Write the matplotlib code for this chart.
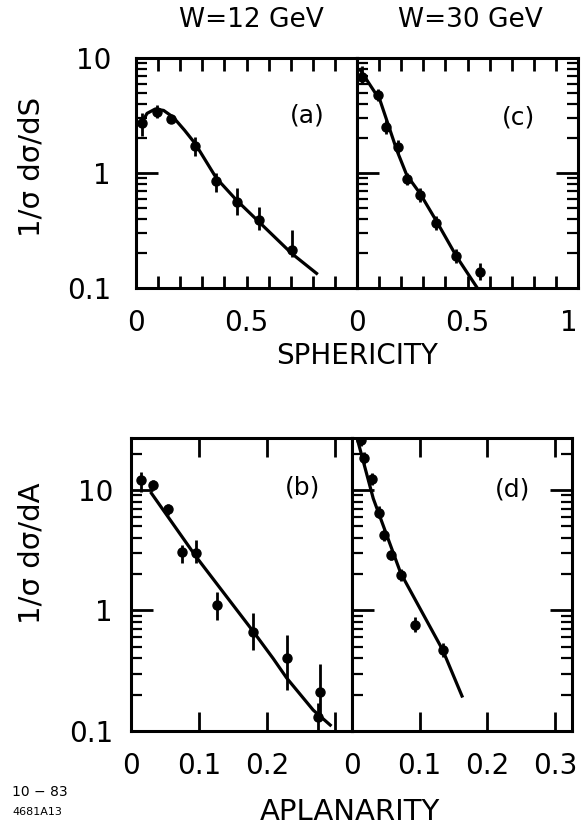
import numpy as np
import matplotlib
matplotlib.use('Agg')
import matplotlib.pyplot as plt
from matplotlib.ticker import LogLocator, MultipleLocator, NullFormatter, FixedLocator, FixedFormatter

# sphericity, W=12 GeV (a)
s12_x = [0.026, 0.094, 0.160, 0.267, 0.362, 0.458, 0.558, 0.704]
s12_y = [2.70, 3.40, 2.95, 1.72, 0.85, 0.56, 0.39, 0.214]
s12_lo = [2.10, 3.00, 2.70, 1.40, 0.68, 0.43, 0.32, 0.186]
s12_hi = [3.30, 3.90, 3.20, 2.05, 1.00, 0.74, 0.51, 0.32]
s12_fit_x = [0.020, 0.050, 0.087, 0.125, 0.169, 0.220, 0.267, 0.364, 0.455, 0.560, 0.704, 0.817]
s12_fit_y = [2.60, 3.30, 3.60, 3.50, 3.05, 2.35, 1.81, 0.90, 0.58, 0.37, 0.200, 0.134]

# sphericity, W=30 GeV (c)
s30_x = [0.021, 0.097, 0.131, 0.187, 0.225, 0.285, 0.357, 0.448, 0.557]
s30_y = [6.9, 4.76, 2.5, 1.67, 0.88, 0.64, 0.365, 0.19, 0.139]
s30_lo = [5.9, 4.2, 2.2, 1.45, 0.78, 0.56, 0.32, 0.165, 0.117]
s30_hi = [8.5, 5.4, 2.9, 1.95, 1.0, 0.74, 0.42, 0.22, 0.166]
s30_fit_x = [0.014, 0.104, 0.180, 0.225, 0.285, 0.360, 0.451, 0.540]
s30_fit_y = [7.9, 4.3, 1.58, 0.96, 0.665, 0.38, 0.187, 0.103]

# aplanarity, W=12 GeV (b)
a12_x = [0.014, 0.033, 0.055, 0.0745, 0.0956, 0.127, 0.180, 0.229, 0.278, 0.275]
a12_y = [12.1, 11.0, 6.9, 3.08, 2.98, 1.11, 0.667, 0.40, 0.21, 0.13]
a12_lo = [9.7, 10.0, 6.2, 2.48, 2.48, 0.83, 0.47, 0.22, 0.13, 0.10]
a12_hi = [14.2, 12.2, 7.7, 3.5, 3.85, 1.43, 0.95, 0.63, 0.36, 0.17]
a12_fit_x = [0.030, 0.0956, 0.180, 0.209, 0.229, 0.268, 0.293]
a12_fit_y = [9.4, 2.8, 0.667, 0.40, 0.275, 0.149, 0.112]

# aplanarity, W=30 GeV (d)
a30_x = [0.0128, 0.0176, 0.029, 0.040, 0.0475, 0.058, 0.072, 0.0926, 0.134]
a30_y = [26.0, 18.3, 12.3, 6.5, 4.24, 2.89, 1.97, 0.76, 0.47]
a30_lo = [23.0, 16.3, 11.0, 5.8, 3.8, 2.6, 1.75, 0.66, 0.41]
a30_hi = [29.0, 20.5, 13.8, 7.3, 4.7, 3.2, 2.2, 0.88, 0.54]
a30_fit_x = [0.0069, 0.0314, 0.072, 0.134, 0.1625]
a30_fit_y = [27.7, 8.5, 2.04, 0.47, 0.195]

plt.rcParams['font.family'] = 'DejaVu Sans'
W, H = 585, 835
fig = plt.figure(figsize=(W / 100, H / 100), dpi=100)


def box(x0, y0, x1, y1):
    return [x0 / W, 1 - y1 / H, (x1 - x0) / W, (y1 - y0) / H]


def panel(rect, xs, ys, lo, hi, fx, fy, xlim, ylim, label, lab_xy):
    ax = fig.add_axes(rect)
    ax.set_yscale('log')
    ys = np.array(ys)
    err = [ys - np.array(lo), np.array(hi) - ys]
    ax.errorbar(xs, ys, yerr=err, fmt='o', color='black', ms=6.5,
                elinewidth=2, capsize=0, zorder=3)
    ax.plot(fx, fy, color='black', lw=2.3, zorder=2)
    ax.set_xlim(*xlim)
    ax.set_ylim(*ylim)
    for sp in ax.spines.values():
        sp.set_linewidth(2.2)
    ax.yaxis.set_major_locator(LogLocator(base=10, numticks=5))
    ax.yaxis.set_minor_locator(LogLocator(base=10, subs=np.arange(2, 10), numticks=20))
    ax.yaxis.set_minor_formatter(NullFormatter())
    ax.tick_params(axis='y', which='major', direction='in', length=16, width=2,
                   left=True, right=True)
    ax.tick_params(axis='y', which='minor', direction='in', length=8, width=1.6,
                   left=True, right=True)
    ax.tick_params(axis='x', which='both', direction='in', width=2,
                   top=True, bottom=True, labelsize=20, pad=15)
    ax.text(lab_xy[0], lab_xy[1], label, transform=fig.transFigure,
            fontsize=18, ha='center', va='center')
    return ax


ax_a = panel(box(136, 58, 357, 288), s12_x, s12_y, s12_lo, s12_hi,
             s12_fit_x, s12_fit_y, (0, 1), (0.1, 10), '(a)', (307 / W, 1 - 115 / H))
ax_c = panel(box(357, 58, 578, 288), s30_x, s30_y, s30_lo, s30_hi,
             s30_fit_x, s30_fit_y, (0, 1), (0.1, 10), '(c)', (518 / W, 1 - 118 / H))
ax_b = panel(box(131, 438, 352, 731), a12_x, a12_y, a12_lo, a12_hi,
             a12_fit_x, a12_fit_y, (0, 0.325), (0.1, 27), '(b)', (303 / W, 1 - 487 / H))
ax_d = panel(box(352, 438, 572, 731), a30_x, a30_y, a30_lo, a30_hi,
             a30_fit_x, a30_fit_y, (0, 0.325), (0.1, 27), '(d)', (513 / W, 1 - 490 / H))

# x ticks
for ax, labs in [(ax_a, ['0', '0.5', '']), (ax_c, ['0', '0.5', '1'])]:
    ax.xaxis.set_major_locator(FixedLocator([0, 0.5, 1.0]))
    ax.xaxis.set_major_formatter(FixedFormatter(labs))
    ax.xaxis.set_minor_locator(MultipleLocator(0.1))
    ax.tick_params(axis='x', which='both', length=9)
for ax, labs in [(ax_b, ['0', '0.1', '0.2', '']), (ax_d, ['0', '0.1', '0.2', '0.3'])]:
    ax.xaxis.set_major_locator(FixedLocator([0, 0.1, 0.2, 0.3]))
    ax.xaxis.set_major_formatter(FixedFormatter(labs))
    ax.tick_params(axis='x', which='major', length=14)

# keep the "1" at the right edge inside the figure
ax_c.xaxis.get_major_ticks()[2].label1.set_horizontalalignment('right')

# y tick labels only on the left panels
for ax, pad in [(ax_a, 18), (ax_b, 13)]:
    ax.yaxis.set_major_locator(FixedLocator([0.1, 1, 10]))
    ax.yaxis.set_major_formatter(FixedFormatter(['0.1', '1', '10']))
    ax.tick_params(axis='y', which='major', labelsize=20, pad=pad)
    ax.tick_params(axis='y', which='both', right=False)
for ax in [ax_c, ax_d]:
    ax.yaxis.set_major_locator(FixedLocator([0.1, 1, 10]))
    ax.yaxis.set_major_formatter(NullFormatter())

fig.text(251 / W, 1 - 20 / H, 'W=12 GeV', fontsize=19, ha='center', va='center')
fig.text(470 / W, 1 - 20 / H, 'W=30 GeV', fontsize=19, ha='center', va='center')
fig.text(357 / W, 1 - 356 / H, 'SPHERICITY', fontsize=20, ha='center', va='center')
fig.text(350 / W, 1 - 812 / H, 'APLANARITY', fontsize=21, ha='center', va='center')
fig.text(32 / W, 1 - 167 / H, '1/σ dσ/dS', fontsize=21, rotation=90,
         ha='center', va='center')
fig.text(32 / W, 1 - 553 / H, '1/σ dσ/dA', fontsize=21, rotation=90,
         ha='center', va='center')
fig.text(12 / W, 1 - 792 / H, '10 − 83', fontsize=10, ha='left', va='center')
fig.text(12 / W, 1 - 812 / H, '4681A13', fontsize=8, ha='left', va='center')

fig.savefig('out.png', dpi=100)
